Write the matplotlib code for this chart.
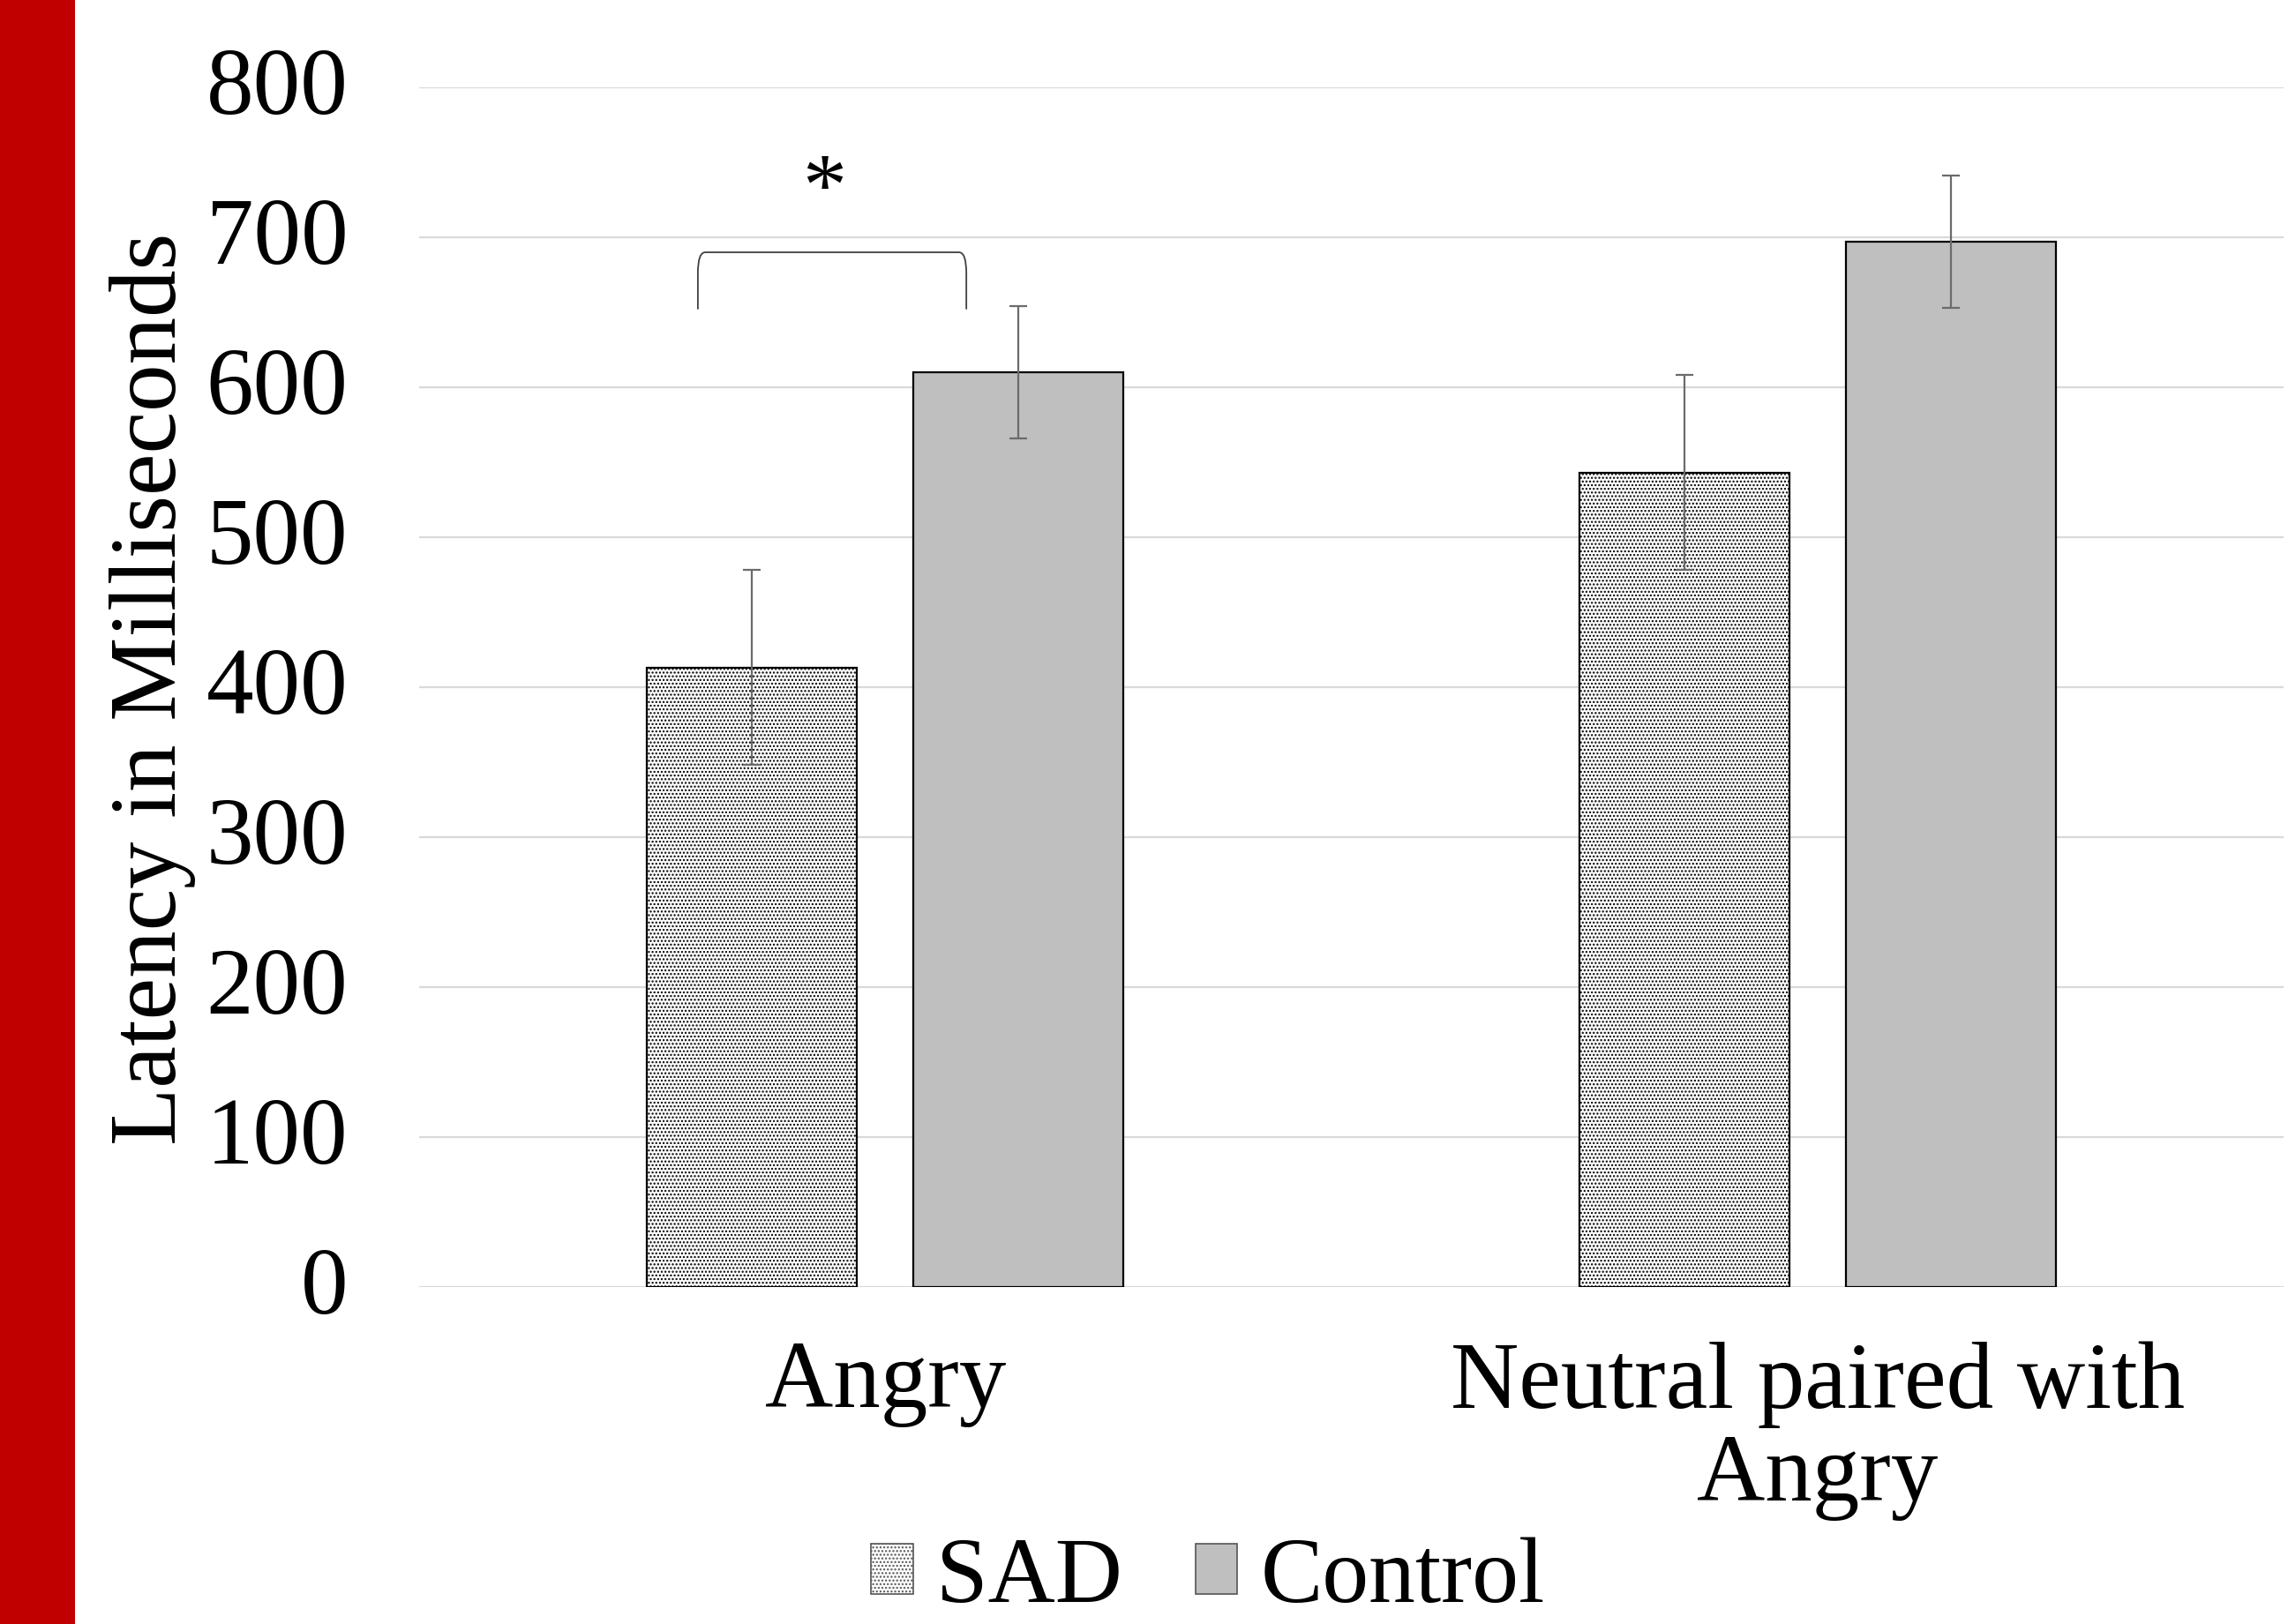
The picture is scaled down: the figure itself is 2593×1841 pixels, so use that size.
import matplotlib
matplotlib.use("Agg")
import matplotlib.pyplot as plt
import matplotlib.transforms as mtransforms
import numpy as np
from matplotlib.path import Path
from matplotlib.patches import PathPatch, Rectangle, Patch

categories = ["Angry", "Neutral paired with\nAngry"]
groups = ["SAD", "Control"]
sad_means = [413, 543]
sad_err = [65, 65]
control_means = [610, 697]
control_err = [44, 44]
yticks = [0, 100, 200, 300, 400, 500, 600, 700, 800]
ylabel = "Latency in Milliseconds"
sig_label = "*"

plt.rcParams['font.family'] = ['Liberation Serif', 'DejaVu Serif']
plt.rcParams['hatch.color'] = '#b0b0b0'
plt.rcParams['hatch.linewidth'] = 1.1

fig = plt.figure(figsize=(25.93, 18.41), dpi=100)
fig.patch.set_facecolor('white')

# red band on the left
fig.add_artist(Rectangle((0, 0), 85 / 2593, 1, transform=fig.transFigure,
                         facecolor='#C00000', edgecolor='none', zorder=0))

ax = fig.add_axes([475 / 2593, 382 / 1841, (2588 - 475) / 2593, (1742 - 382) / 1841])

x = np.arange(len(categories))
w = 0.225
off = 0.143

err_kw = dict(ecolor='#6b6b6b', elinewidth=1.6, capsize=7, capthick=1.6)
b1 = ax.bar(x - off, sad_means, w, color='white', edgecolor='black', linewidth=1.6,
            hatch='....', yerr=sad_err, error_kw=err_kw, zorder=3, label=groups[0])
b2 = ax.bar(x + off, control_means, w, color='#BFBFBF', edgecolor='black', linewidth=1.6,
            yerr=control_err, error_kw=err_kw, zorder=3, label=groups[1])

ax.set_xlim(-0.5, 1.5)
ax.set_ylim(0, 800)
ax.set_yticks(yticks)
ax.set_yticklabels([str(t) for t in yticks])
ax.set_xticks(x)
ax.set_xticklabels(categories, linespacing=1.1)
ax.tick_params(axis='y', length=0, pad=58, labelsize=77)
ax.tick_params(axis='x', length=0, pad=44, labelsize=77)
shift = mtransforms.ScaledTranslation(0, 8 / 100, fig.dpi_scale_trans)
for lbl in ax.get_yticklabels():
    lbl.set_transform(lbl.get_transform() + shift)
ax.yaxis.grid(True, color='#D9D9D9', linewidth=1.6, zorder=0)
ax.set_axisbelow(True)
for s in ax.spines.values():
    s.set_visible(False)

fig.text(173 / 2593, (1841 - 781) / 1841, ylabel, rotation=90, ha='center', va='center',
         fontsize=77)

# significance bracket
bx0, bx1 = -0.201, 0.087
by_top, by_bot = 690, 652
rx, ry = 0.008, 14
verts = [(bx0, by_bot), (bx0, by_top - ry), (bx0, by_top), (bx0 + rx, by_top),
         (bx1 - rx, by_top), (bx1, by_top), (bx1, by_top - ry), (bx1, by_bot)]
codes = [Path.MOVETO, Path.LINETO, Path.CURVE3, Path.CURVE3,
         Path.LINETO, Path.CURVE3, Path.CURVE3, Path.LINETO]
ax.add_patch(PathPatch(Path(verts, codes), facecolor='none', edgecolor='#404040',
                       linewidth=1.3, zorder=4))
ax.text(-0.065, 730, sig_label, ha='center', va='center', fontsize=72)

handles = [Patch(facecolor='white', edgecolor='#555555', hatch='....', linewidth=1.2),
           Patch(facecolor='#BFBFBF', edgecolor='#555555', linewidth=1.2)]
fig.legend(handles, groups, loc='center', bbox_to_anchor=(0.528, 50 / 1841), ncol=2,
           frameon=False, fontsize=76, handlelength=0.45, handleheight=0.45,
           handletextpad=0.25, columnspacing=0.78, borderaxespad=0, borderpad=0)

fig.savefig('out.png', dpi=100, facecolor='white')
